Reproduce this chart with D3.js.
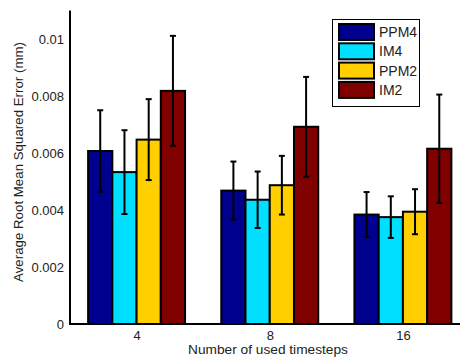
<!DOCTYPE html>
<html><head><meta charset="utf-8">
<script src="https://cdn.jsdelivr.net/npm/d3@7"></script>
<style>body{margin:0;background:#fff}svg{display:block}text{font-family:"Liberation Sans",Arial,sans-serif;fill:#222}</style>
</head><body><svg id="c" width="460" height="358"></svg>
<script>
const categories = ["4", "8", "16"];
const seriesNames = ["PPM4", "IM4", "PPM2", "IM2"];
const colors = ["#00008F", "#00DFFF", "#FFCF00", "#800000"];
const ppm4 = [0.00607, 0.00468, 0.00384];
const im4  = [0.00533, 0.00436, 0.00375];
const ppm2 = [0.00647, 0.00487, 0.00394];
const im2  = [0.00818, 0.00692, 0.00615];
const ppm4Err = [0.00143, 0.00102, 0.00079];
const im4Err  = [0.00147, 0.00099, 0.00073];
const ppm2Err = [0.00142, 0.00103, 0.00079];
const im2Err  = [0.00193, 0.00175, 0.00190];
const yTicks = [0, 0.002, 0.004, 0.006, 0.008, 0.01];
const yTickLabels = ["0", "0.002", "0.004", "0.006", "0.008", "0.01"];

const values = [ppm4, im4, ppm2, im2];
const errs = [ppm4Err, im4Err, ppm2Err, im2Err];

const svg = d3.select("#c");
const x = d3.scaleLinear().domain([0.5, 3.5]).range([70, 469.5]);
const y = d3.scaleLinear().domain([0, 0.011]).range([324, 10.5]);
const groupW = (x(2) - x(1)) * 0.728;
const inner = d3.scaleBand().domain(seriesNames).range([-groupW/2, groupW/2]).padding(0);

const data = [];
categories.forEach((c, i) => seriesNames.forEach((s, j) => data.push({i, j, v: values[j][i], e: errs[j][i]})));

svg.selectAll("rect.bar").data(data).enter().append("rect")
  .attr("class","bar")
  .attr("x", d => x(d.i+1) + inner(seriesNames[d.j]))
  .attr("width", inner.bandwidth())
  .attr("y", d => y(d.v))
  .attr("height", d => y(0) - y(d.v))
  .attr("fill", d => colors[d.j])
  .attr("stroke", "#000").attr("stroke-width", 2);

const eb = svg.selectAll("g.eb").data(data).enter().append("g").attr("class","eb")
  .attr("stroke","#000").attr("stroke-width",2);
const cx = d => x(d.i+1) + inner(seriesNames[d.j]) + inner.bandwidth()/2;
eb.append("line").attr("x1",cx).attr("x2",cx).attr("y1",d=>y(d.v+d.e)).attr("y2",d=>y(d.v-d.e));
eb.append("line").attr("x1",d=>cx(d)-3).attr("x2",d=>cx(d)+3).attr("y1",d=>y(d.v+d.e)).attr("y2",d=>y(d.v+d.e));
eb.append("line").attr("x1",d=>cx(d)-3).attr("x2",d=>cx(d)+3).attr("y1",d=>y(d.v-d.e)).attr("y2",d=>y(d.v-d.e));

// axes
const yAxis = d3.axisLeft(y).tickValues(yTicks).tickFormat((d,i)=>yTickLabels[i]).tickSize(0).tickPadding(6);
const gy = svg.append("g").attr("transform","translate(70,0)").call(yAxis);
gy.select(".domain").attr("stroke","#000").attr("stroke-width",2).attr("d", `M0,${y(0)}V${y(0.011)}`);
gy.selectAll("text").attr("font-size",13).attr("font-family","Liberation Sans, Arial, sans-serif").attr("fill","#222");

const xAxis = d3.axisBottom(x).tickValues([1,2,3]).tickFormat((d,i)=>categories[i]).tickSize(0).tickPadding(7);
const gx = svg.append("g").attr("transform",`translate(0,${y(0)})`).call(xAxis);
gx.select(".domain").attr("stroke","#000").attr("stroke-width",2).attr("d", `M69,0H470`);
gx.selectAll("text").attr("font-size",13).attr("font-family","Liberation Sans, Arial, sans-serif").attr("fill","#222");

svg.append("text").attr("x", 268).attr("y", 354).attr("text-anchor","middle").attr("font-size",13.7).text("Number of used timesteps");
svg.append("text").attr("transform","translate(22.5,162) rotate(-90)").attr("text-anchor","middle").attr("font-size",13.3).text("Average Root Mean Squared Error (mm)");

// legend
const lg = svg.append("g");
lg.append("rect").attr("x",332.5).attr("y",19.5).attr("width",87).attr("height",87).attr("fill","#fff").attr("stroke","#000").attr("stroke-width",1);
seriesNames.forEach((s, j) => {
  const yy = 24 + j*19.3;
  lg.append("rect").attr("x",339).attr("y",yy).attr("width",35).attr("height",16).attr("fill",colors[j]).attr("stroke","#000").attr("stroke-width",2);
  lg.append("text").attr("x",379).attr("y",yy+8).attr("dy","0.35em").attr("font-size",14).text(s);
});
</script></body></html>
